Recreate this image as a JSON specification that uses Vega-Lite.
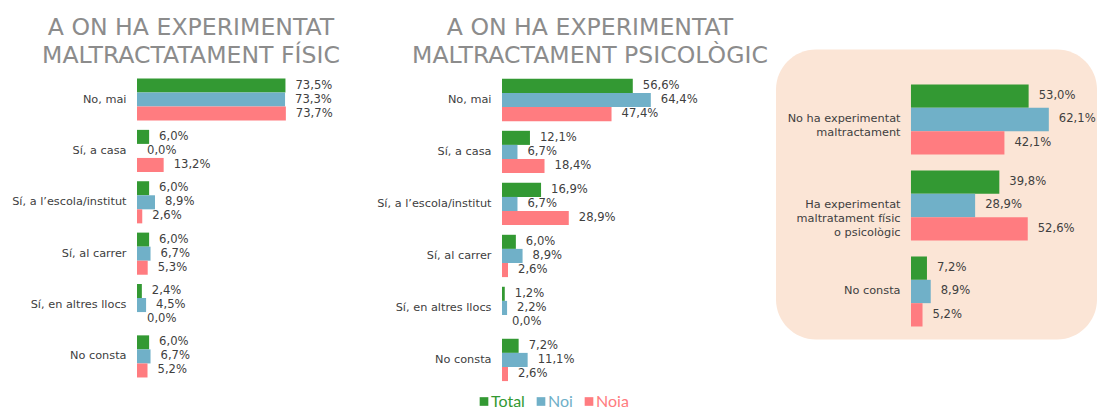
{
  "$schema": "https://vega.github.io/schema/vega-lite/v6.json",
  "padding": {"left": 11, "top": 15.5, "right": 5, "bottom": 0},
  "background": "white",
  "datasets": {
    "fisic": [
      {"c": "No, mai", "s": "Total", "v": 73.5}, {"c": "No, mai", "s": "Noi", "v": 73.3}, {"c": "No, mai", "s": "Noia", "v": 73.7},
      {"c": "Sí, a casa", "s": "Total", "v": 6.0}, {"c": "Sí, a casa", "s": "Noi", "v": 0.0}, {"c": "Sí, a casa", "s": "Noia", "v": 13.2},
      {"c": "Sí, a l’escola/institut", "s": "Total", "v": 6.0}, {"c": "Sí, a l’escola/institut", "s": "Noi", "v": 8.9}, {"c": "Sí, a l’escola/institut", "s": "Noia", "v": 2.6},
      {"c": "Sí, al carrer", "s": "Total", "v": 6.0}, {"c": "Sí, al carrer", "s": "Noi", "v": 6.7}, {"c": "Sí, al carrer", "s": "Noia", "v": 5.3},
      {"c": "Sí, en altres llocs", "s": "Total", "v": 2.4}, {"c": "Sí, en altres llocs", "s": "Noi", "v": 4.5}, {"c": "Sí, en altres llocs", "s": "Noia", "v": 0.0},
      {"c": "No consta", "s": "Total", "v": 6.0}, {"c": "No consta", "s": "Noi", "v": 6.7}, {"c": "No consta", "s": "Noia", "v": 5.2}
    ],
    "psic": [
      {"c": "No, mai", "s": "Total", "v": 56.6}, {"c": "No, mai", "s": "Noi", "v": 64.4}, {"c": "No, mai", "s": "Noia", "v": 47.4},
      {"c": "Sí, a casa", "s": "Total", "v": 12.1}, {"c": "Sí, a casa", "s": "Noi", "v": 6.7}, {"c": "Sí, a casa", "s": "Noia", "v": 18.4},
      {"c": "Sí, a l’escola/institut", "s": "Total", "v": 16.9}, {"c": "Sí, a l’escola/institut", "s": "Noi", "v": 6.7}, {"c": "Sí, a l’escola/institut", "s": "Noia", "v": 28.9},
      {"c": "Sí, al carrer", "s": "Total", "v": 6.0}, {"c": "Sí, al carrer", "s": "Noi", "v": 8.9}, {"c": "Sí, al carrer", "s": "Noia", "v": 2.6},
      {"c": "Sí, en altres llocs", "s": "Total", "v": 1.2}, {"c": "Sí, en altres llocs", "s": "Noi", "v": 2.2}, {"c": "Sí, en altres llocs", "s": "Noia", "v": 0.0},
      {"c": "No consta", "s": "Total", "v": 7.2}, {"c": "No consta", "s": "Noi", "v": 11.1}, {"c": "No consta", "s": "Noia", "v": 2.6}
    ],
    "global": [
      {"c": "No ha experimentat maltractament", "s": "Total", "v": 53.0}, {"c": "No ha experimentat maltractament", "s": "Noi", "v": 62.1}, {"c": "No ha experimentat maltractament", "s": "Noia", "v": 42.1},
      {"c": "Ha experimentat maltratament físic o psicològic", "s": "Total", "v": 39.8}, {"c": "Ha experimentat maltratament físic o psicològic", "s": "Noi", "v": 28.9}, {"c": "Ha experimentat maltratament físic o psicològic", "s": "Noia", "v": 52.6},
      {"c": "No consta", "s": "Total", "v": 7.2}, {"c": "No consta", "s": "Noi", "v": 8.9}, {"c": "No consta", "s": "Noia", "v": 5.2}
    ]
  },
  "config": {
    "font": "DejaVu Sans",
    "view": {"stroke": null},
    "title": {"font": "DejaVu Sans", "fontSize": 23.6, "fontWeight": "normal", "color": "#8C8C8C", "lineHeight": 28, "offset": -18.5},
    "axis": {"labelFont": "DejaVu Sans", "labelFontSize": 11.3, "labelColor": "#404040", "ticks": false, "domain": false, "grid": false, "labelPadding": 11}
  },
  "resolve": {"scale": {"yOffset": "independent"}},
  "bounds": "flush",
  "spacing": 100,
  "hconcat": [
    {
      "data": {"name": "fisic"},
      "width": 265,
      "height": 330,
      "title": {"text": ["A ON HA EXPERIMENTAT", "MALTRACTATAMENT FÍSIC"], "dx": -78.5},
      "transform": [{"calculate": "replace(format(datum.v, '.1f'), '.', ',') + '%'", "as": "label"}],
      "encoding": {
        "y": {"field": "c", "type": "nominal", "sort": null, "title": null, "scale": {"paddingInner": 0.18, "paddingOuter": 0.3017, "align": 0.935, "round": false}},
        "yOffset": {"field": "s", "type": "nominal", "sort": ["Total", "Noi", "Noia"], "scale": {"paddingInner": 0, "paddingOuter": 0}},
        "x": {"field": "v", "type": "quantitative", "axis": null, "scale": {"domain": [0, 131.2], "nice": false}}
      },
      "layer": [
        {
          "mark": {"type": "bar"},
          "encoding": {
            "color": {
              "field": "s", "type": "nominal",
              "scale": {"domain": ["Total", "Noi", "Noia"], "range": ["#339933", "#70B0C8", "#FF7C80"]},
              "legend": {
                "orient": "none", "legendX": 339, "legendY": 344, "direction": "horizontal", "title": null,
                "symbolType": "square", "symbolSize": 75, "symbolStrokeWidth": 0,
                "labelFont": "Lato", "labelFontSize": 16, "labelOffset": -1, "columnPadding": 8,
                "encode": {"labels": {"update": {"fill": {"signal": "scale('color', datum.value)"}}}}
              }
            }
          }
        },
        {
          "mark": {"type": "text", "align": "left", "baseline": "middle", "dx": 10, "fontSize": 11.6, "color": "#404040"},
          "encoding": {"text": {"field": "label"}}
        }
      ]
    },
    {
      "data": {"name": "psic"},
      "width": 174,
      "height": 334,
      "title": {"text": ["A ON HA EXPERIMENTAT", "MALTRACTAMENT PSICOLÒGIC"], "dx": 1},
      "transform": [{"calculate": "replace(format(datum.v, '.1f'), '.', ',') + '%'", "as": "label"}],
      "encoding": {
        "y": {"field": "c", "type": "nominal", "sort": null, "title": null, "scale": {"paddingInner": 0.186, "paddingOuter": 0.305, "align": 0.924, "round": false}},
        "yOffset": {"field": "s", "type": "nominal", "sort": ["Total", "Noi", "Noia"], "scale": {"paddingInner": 0, "paddingOuter": 0}},
        "x": {"field": "v", "type": "quantitative", "axis": null, "scale": {"domain": [0, 75.3], "nice": false}}
      },
      "layer": [
        {
          "mark": {"type": "bar"},
          "encoding": {"color": {"field": "s", "type": "nominal"}}
        },
        {
          "mark": {"type": "text", "align": "left", "baseline": "middle", "dx": 10, "fontSize": 11.6, "color": "#404040"},
          "encoding": {"text": {"field": "label"}}
        }
      ]
    },
    {
      "data": {"name": "global"},
      "width": 321,
      "height": 290,
      "view": {"fill": "#FBE5D6", "cornerRadius": 40},
      "transform": [{"calculate": "replace(format(datum.v, '.1f'), '.', ',') + '%'", "as": "label"}],
      "encoding": {
        "y": {
          "field": "c", "type": "nominal", "sort": null, "title": null,
          "scale": {"paddingInner": 0.186, "paddingOuter": 0.279, "align": 0.729, "round": false},
          "axis": {
            "offset": -135, "labelLineHeight": 14, "labelPadding": 11,
            "labelExpr": "datum.label == 'No ha experimentat maltractament' ? ['No ha experimentat', 'maltractament'] : datum.label == 'Ha experimentat maltratament físic o psicològic' ? ['Ha experimentat', 'maltratament físic', 'o psicològic'] : datum.label"
          }
        },
        "yOffset": {"field": "s", "type": "nominal", "sort": ["Total", "Noi", "Noia"], "scale": {"paddingInner": 0, "paddingOuter": 0}},
        "x": {"field": "v", "type": "quantitative", "axis": null, "scale": {"domain": [-60.8, 83.8], "nice": false, "zero": false}}
      },
      "layer": [
        {
          "mark": {"type": "bar"},
          "encoding": {"color": {"field": "s", "type": "nominal"}}
        },
        {
          "mark": {"type": "text", "align": "left", "baseline": "middle", "dx": 10, "fontSize": 11.6, "color": "#404040"},
          "encoding": {"text": {"field": "label"}}
        }
      ]
    }
  ]
}
